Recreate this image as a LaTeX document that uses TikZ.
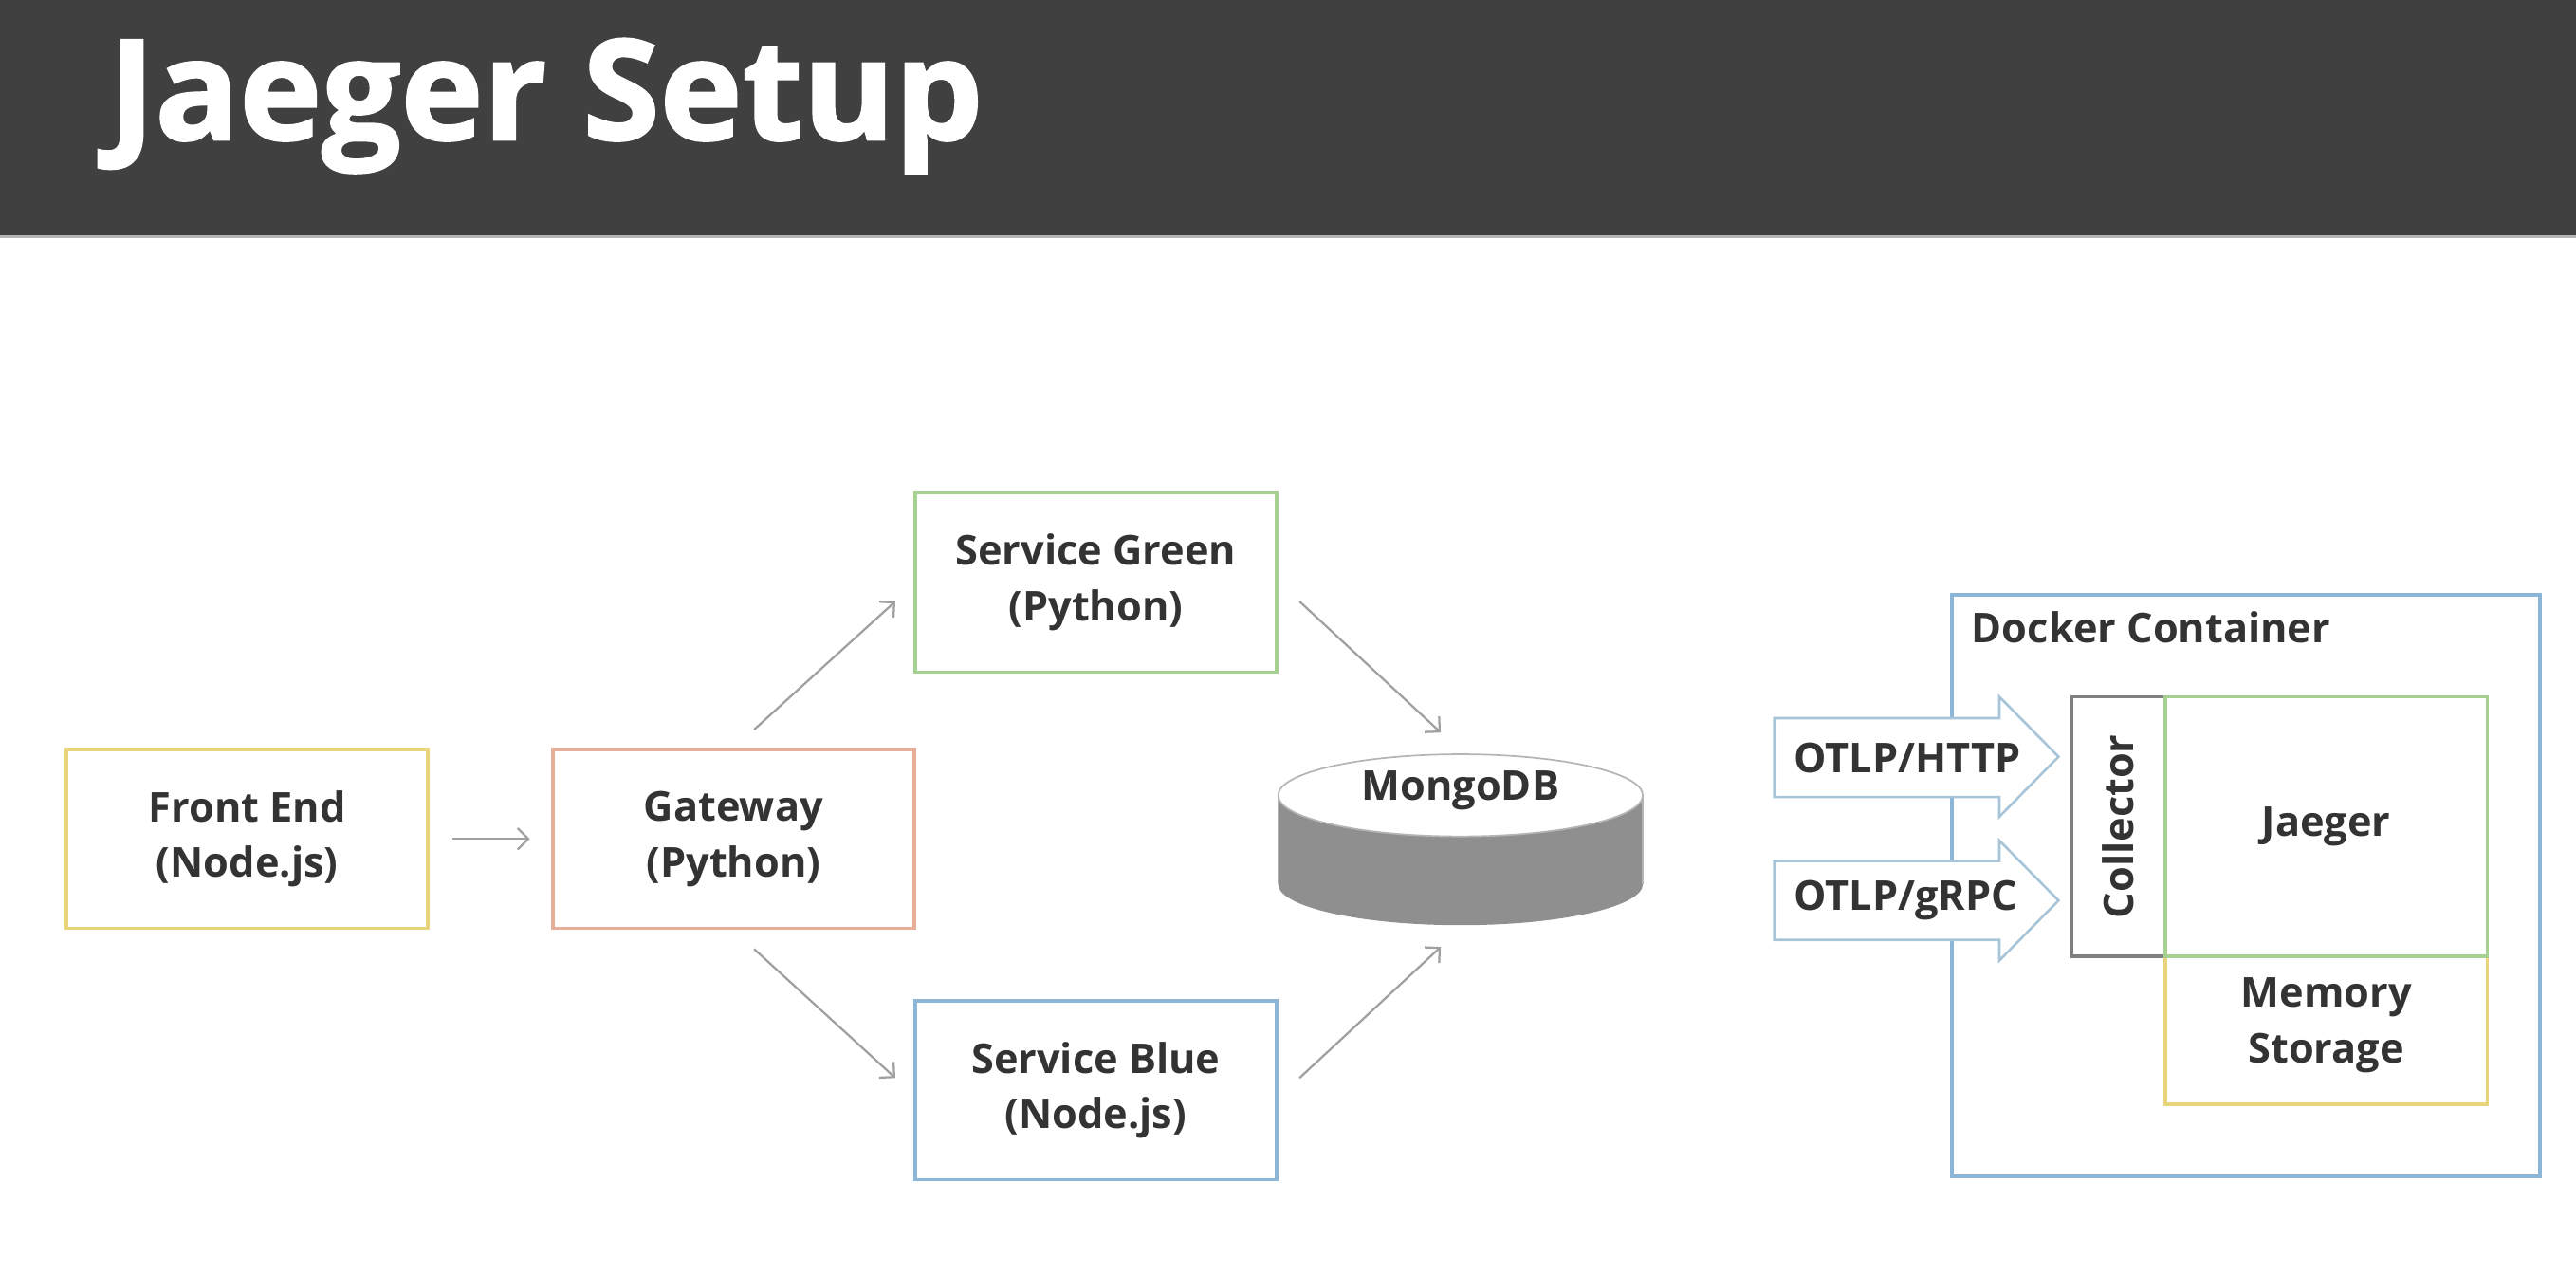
\documentclass[tikz,border=0pt]{standalone}
\usepackage{fontspec}
\setmainfont{Open Sans}
\newfontfamily\titlefont{Open Sans}[BoldFeatures={FakeBold=1.6}]
\usetikzlibrary{arrows.meta}
\definecolor{bar}{HTML}{404040}
\definecolor{txt}{HTML}{333333}
\definecolor{yel}{HTML}{E8D47C}
\definecolor{salmon}{HTML}{E6AE98}
\definecolor{grn}{HTML}{A6D191}
\definecolor{blu}{HTML}{8DB6D6}
\definecolor{arr}{HTML}{A0A0A0}
\definecolor{mgray}{HTML}{8F8F8F}
\definecolor{mline}{HTML}{B5B5B5}
\definecolor{colgray}{HTML}{808080}
\definecolor{barrow}{HTML}{A8C4D8}
\begin{document}
\begin{tikzpicture}[x=1pt,y=-1pt,
  lbl/.style={text=txt, inner sep=0pt, align=center, font=\bfseries\fontsize{25}{34}\selectfont},
  box/.style={lbl, draw, line width=2pt, minimum width=220pt, minimum height=109pt},
  link/.style={draw=arr, line width=1.3pt, -{Straight Barb[length=6.5pt,width=13pt]}},
  blockarrow/.style={draw=barrow, fill=white, line width=1.5pt, line join=miter}]
\useasboundingbox (0,0) rectangle (1568,776);
% title bar
\fill[bar] (0,0) rectangle (1568,143);
\draw[mline, line width=1.5pt] (0,144) -- (1568,144);
\node[anchor=base west, inner sep=0pt, text=white, font=\titlefont\bfseries\fontsize{85}{90}\selectfont] (title) at (66,85) {Jaeger Setup};
% boxes
\node[box, draw=yel] (fe) at (150.5,510.5) {Front End\\(Node.js)};
\node[box, draw=salmon] (gw) at (446.5,510.5) {Gateway\\(Python)};
\node[box, draw=grn] (green) at (667,354.5) {Service Green\\(Python)};
\node[box, draw=blu] (blue) at (667,663.5) {Service Blue\\(Node.js)};
% MongoDB cylinder
\fill[mgray] (778,484) rectangle (1000,538);
\fill[mgray] (889,538) ellipse[x radius=111, y radius=25];
\draw[mline, line width=0.8pt] (778,484) -- (778,538);
\draw[mline, line width=0.8pt] (1000,484) -- (1000,538);
\draw[mline, line width=1pt, fill=white] (889,484) ellipse[x radius=111, y radius=25];
\node[inner sep=0pt, minimum width=222pt, minimum height=104pt] (db) at (889,510.5) {};
\node[lbl] (mongo) at (889,481) {MongoDB};
% connectors
\draw[link, shorten <=14pt, shorten >=13pt] (fe) -- (gw);
\draw[link] ([xshift=12.5pt,yshift=11pt]gw.north) -- ([xshift=-11pt,yshift=-11.5pt]green.west);
\draw[link] ([xshift=12.5pt,yshift=-11.5pt]gw.south) -- ([xshift=-11pt,yshift=7.5pt]blue.west);
\draw[link] ([xshift=13pt,yshift=-11.5pt]green.east) -- ([xshift=-12pt,yshift=12.5pt]db.north);
\draw[link] ([xshift=13pt,yshift=7.5pt]blue.east) -- ([xshift=-12pt,yshift=-13.5pt]db.south);
% docker container
\node[draw=blu, line width=2pt, minimum width=358pt, minimum height=354pt, inner sep=0pt] (docker) at (1367,539) {};
\node[lbl, anchor=base west] (dlabel) at (1200,391) {Docker Container};
\node[lbl, draw=yel, line width=2pt, minimum width=196pt, minimum height=90pt] (mem) at (1416,627) {};
\node[lbl] (memtext) at (1416,624) {Memory\\Storage};
\node[lbl, draw=colgray, line width=2pt, minimum width=57pt, minimum height=158pt] (coll) at (1289.5,503) {};
\node[lbl, rotate=90] (colltext) at (1289.5,503) {Collector};
\node[lbl, draw=grn, line width=2pt, minimum width=196pt, minimum height=158pt] (jaeger) at (1416,503) {Jaeger};
% block arrows
\draw[blockarrow] (1080,437) -- (1217,437) -- (1217,424) -- (1253,460.5) -- (1217,497) -- (1217,485) -- (1080,485) -- cycle;
\draw[blockarrow] (1080,524) -- (1217,524) -- (1217,511.5) -- (1253,548) -- (1217,584.5) -- (1217,572) -- (1080,572) -- cycle;
\node[lbl] (http) at (1161,461) {OTLP/HTTP};
\node[lbl] (grpc) at (1160,548) {OTLP/gRPC};
\end{tikzpicture}
\end{document}
